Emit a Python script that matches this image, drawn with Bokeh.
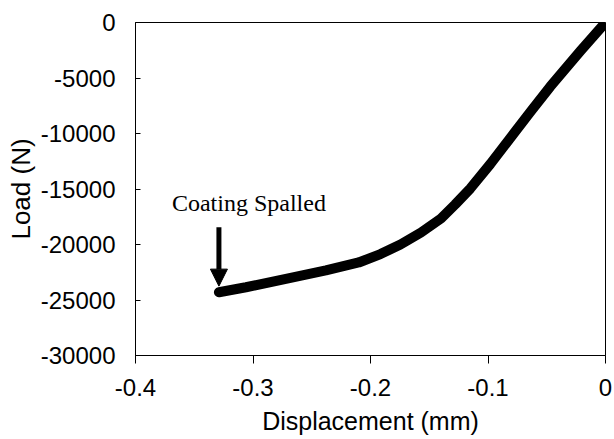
from bokeh.plotting import figure
from bokeh.models import Range1d, FixedTicker, Label, Arrow, NormalHead
from bokeh.embed import file_html
from bokeh.resources import INLINE

# Data
displacement = [-0.329, -0.306, -0.272, -0.238, -0.210, -0.1915, -0.1745, -0.157, -0.140,
                -0.128, -0.115, -0.098, -0.081, -0.064, -0.047, -0.021, 0.0]
load = [-24300, -23850, -23090, -22340, -21620, -20860, -20000, -18920, -17660,
        -16400, -14950, -12750, -10400, -8060, -5770, -2520, 0]

x_ticks = [-0.4, -0.3, -0.2, -0.1, 0.0]
x_tick_labels = ["-0.4", "-0.3", "-0.2", "-0.1", "0"]
y_ticks = [-30000, -25000, -20000, -15000, -10000, -5000, 0]
y_tick_labels = ["-30000", "-25000", "-20000", "-15000", "-10000", "-5000", "0"]

annotation_text = "Coating Spalled"
annotation_x = -0.369
annotation_y = -16300
arrow_x = -0.329
arrow_y_start = -18450
arrow_y_end = -23750

p = figure(width=614, height=439, output_backend="svg", toolbar_location=None,
           x_range=Range1d(-0.4, 0.0), y_range=Range1d(-30000, 0),
           min_border_left=135, min_border_top=22, min_border_bottom=84, min_border_right=9)

p.grid.visible = False
p.outline_line_color = "black"
p.outline_line_width = 1
p.background_fill_color = "white"
p.border_fill_color = "white"

p.line(displacement, load, line_color="black", line_width=10, line_join="round", line_cap="round")

p.xaxis.ticker = FixedTicker(ticks=x_ticks)
p.xaxis.major_label_overrides = dict(zip(x_ticks, x_tick_labels))
p.yaxis.ticker = FixedTicker(ticks=y_ticks)
p.yaxis.major_label_overrides = dict(zip(y_ticks, y_tick_labels))

for ax in (p.xaxis[0], p.yaxis[0]):
    ax.axis_line_color = "black"
    ax.major_tick_line_color = "black"
    ax.minor_tick_line_color = None
    ax.major_label_text_font = "Liberation Sans"
    ax.major_label_text_font_size = "24px"
    ax.major_label_text_color = "black"
    ax.axis_label_text_font = "Liberation Sans"
    ax.axis_label_text_font_style = "normal"
    ax.axis_label_text_color = "black"

p.xaxis.major_tick_out = 8
p.xaxis.major_tick_in = 0
p.xaxis.major_label_standoff = 15
p.xaxis.axis_label = "Displacement (mm)"
p.xaxis.axis_label_text_font_size = "25px"
p.xaxis.axis_label_standoff = 8

p.yaxis.major_tick_out = 0
p.yaxis.major_tick_in = 5
p.yaxis.major_label_standoff = 20
p.yaxis.axis_label = "Load (N)"
p.yaxis.axis_label_text_font_size = "26px"
p.yaxis.axis_label_standoff = 2

p.add_layout(Label(x=annotation_x, y=annotation_y, text=annotation_text,
                   text_font="Liberation Serif", text_font_size="24px",
                   text_color="black", text_baseline="alphabetic", text_align="left"))

p.add_layout(Arrow(x_start=arrow_x, y_start=arrow_y_start, x_end=arrow_x, y_end=arrow_y_end,
                   line_color="black", line_width=5,
                   end=NormalHead(size=17, fill_color="black", line_color="black", line_width=1)))

open("out.html", "w").write(file_html(p, INLINE))
